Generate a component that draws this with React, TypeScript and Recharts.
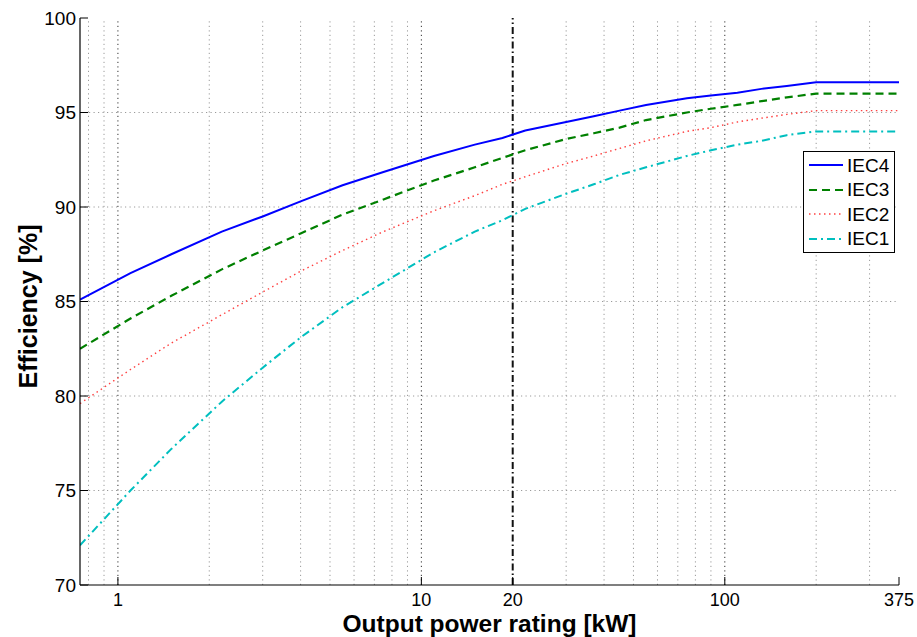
import React from "react";
import { LineChart, Line, XAxis, YAxis, ReferenceLine, Legend, Label } from "recharts";

// rated output power [kW]
const RATINGS = [0.75, 1.1, 1.5, 2.2, 3, 4, 5.5, 7.5, 11, 15, 18.5, 22, 30, 37, 45, 55, 75, 90, 110, 132, 160, 200, 375];

// efficiency [%]
const IEC4 = [85.1, 86.5, 87.5, 88.7, 89.5, 90.3, 91.15, 91.85, 92.7, 93.3, 93.65, 94.05, 94.5, 94.8, 95.1, 95.4, 95.75, 95.9, 96.05, 96.25, 96.4, 96.6, 96.6];
const IEC3 = [82.5, 84.1, 85.3, 86.7, 87.7, 88.6, 89.6, 90.4, 91.4, 92.1, 92.6, 93.0, 93.6, 93.9, 94.2, 94.6, 95.0, 95.2, 95.4, 95.6, 95.8, 96.0, 96.0];
const IEC2 = [79.6, 81.4, 82.8, 84.3, 85.5, 86.6, 87.7, 88.7, 89.8, 90.6, 91.2, 91.6, 92.3, 92.7, 93.1, 93.5, 94.0, 94.2, 94.5, 94.7, 94.9, 95.1, 95.1];
const IEC1 = [72.1, 75.0, 77.2, 79.7, 81.5, 83.1, 84.7, 86.0, 87.6, 88.7, 89.3, 89.9, 90.7, 91.2, 91.7, 92.1, 92.7, 93.0, 93.3, 93.5, 93.8, 94.0, 94.0];

const SERIES = ["IEC4", "IEC3", "IEC2", "IEC1"];
const X_TICKS = [1, 10, 20, 100, 375];
const Y_TICKS = [70, 75, 80, 85, 90, 95, 100];
const X_GRID_MINOR = [0.8, 0.9, 2, 3, 4, 5, 6, 7, 8, 9, 30, 40, 50, 60, 70, 80, 90, 200, 300];
const X_GRID_MAJOR = [1, 10, 100];
const Y_GRID = [75, 80, 85, 90, 95];
const MARKER_KW = 20;

const data = RATINGS.map((kw, i) => ({
  kw,
  IEC4: IEC4[i],
  IEC3: IEC3[i],
  IEC2: IEC2[i],
  IEC1: IEC1[i],
}));

const FONT = "'Liberation Sans', Arial, Helvetica, sans-serif";

const STYLES: Record<string, { color: string; width: number; dash?: string }> = {
  IEC4: { color: "#0000ff", width: 2 },
  IEC3: { color: "#008000", width: 2.2, dash: "8 5" },
  IEC2: { color: "#ff4040", width: 1.4, dash: "1.5 3.5" },
  IEC1: { color: "#00bfbf", width: 2, dash: "8 4 2 4" },
};

const LeftTick = ({ x, y, payload }: any) => (
  <g>
    <line x1={x} y1={y} x2={x + 8} y2={y} stroke="#000" />
    <text x={x - 4} y={y} textAnchor="end" dominantBaseline="central" fontFamily={FONT} fontSize={19} fill="#000">
      {payload.value}
    </text>
  </g>
);

const BottomTick = ({ x, y, payload }: any) => (
  <g>
    <line x1={x} y1={y} x2={x} y2={y - 8} stroke="#000" />
    <text x={x} y={y + 15} textAnchor="middle" dominantBaseline="central" fontFamily={FONT} fontSize={18} fill="#000">
      {payload.value}
    </text>
  </g>
);

const RightTick = ({ x, y }: any) => <line x1={x} y1={y} x2={x - 8} y2={y} stroke="#000" />;
const TopTick = ({ x, y }: any) => <line x1={x} y1={y} x2={x} y2={y + 8} stroke="#000" />;

const renderLegend = ({ payload }: any) => {
  const entries = [...(payload || [])].sort(
    (a: any, b: any) => SERIES.indexOf(a.value) - SERIES.indexOf(b.value)
  );
  return (
    <div
      style={{
        border: "1px solid #000",
        background: "#fff",
        padding: "1px 4px 1px 5px",
        fontFamily: FONT,
        fontSize: 19,
        color: "#000",
      }}
    >
      {entries.map((entry: any) => {
        const s = STYLES[entry.value];
        return (
          <div key={entry.value} style={{ display: "flex", alignItems: "center", height: 24.5 }}>
            <svg width={35} height={10} style={{ display: "block" }}>
              <line x1={0} x2={34} y1={5} y2={5} stroke={s.color} strokeWidth={s.width} strokeDasharray={s.dash} />
            </svg>
            <span style={{ marginLeft: 3, lineHeight: 1 }}>{entry.value}</span>
          </div>
        );
      })}
    </div>
  );
};

export default function App() {
  return (
    <div style={{ position: "absolute", left: 0, top: 0, background: "#fff" }}>
      <LineChart width={917} height={637} data={data} margin={{ top: 18, right: 18, left: 0, bottom: 0 }}>
        <XAxis
          dataKey="kw"
          type="number"
          scale="log"
          domain={[0.75, 375]}
          allowDataOverflow
          ticks={X_TICKS}
          interval={0}
          tickSize={0}
          tickMargin={0}
          tickLine={false}
          height={52}
          axisLine={{ stroke: "#000", strokeWidth: 1.2 }}
          tick={<BottomTick />}
        >
          <Label
            content={(p: any) => (
              <text
                x={p.viewBox.x + p.viewBox.width / 2}
                y={p.viewBox.y + 47}
                textAnchor="middle"
                fontFamily={FONT}
                fontWeight="bold"
                fontSize={24.5}
                fill="#000"
              >
                Output power rating [kW]
              </text>
            )}
          />
        </XAxis>
        <XAxis
          xAxisId="top"
          dataKey="kw"
          type="number"
          scale="log"
          domain={[0.75, 375]}
          allowDataOverflow
          orientation="top"
          ticks={X_TICKS}
          interval={0}
          tickSize={0}
          tickMargin={0}
          tickLine={false}
          height={0}
          axisLine={{ stroke: "#000", strokeWidth: 1.2 }}
          tick={<TopTick />}
        />
        <YAxis
          type="number"
          domain={[70, 100]}
          ticks={Y_TICKS}
          interval={0}
          tickSize={0}
          tickMargin={0}
          tickLine={false}
          width={80}
          axisLine={{ stroke: "#000", strokeWidth: 1.2 }}
          tick={<LeftTick />}
        >
          <Label
            content={(p: any) => {
              const cx = p.viewBox.x + 28;
              const cy = p.viewBox.y + p.viewBox.height / 2 + 5;
              return (
                <text
                  x={cx}
                  y={cy}
                  transform={`rotate(-90 ${cx} ${cy})`}
                  textAnchor="middle"
                  dominantBaseline="central"
                  fontFamily={FONT}
                  fontWeight="bold"
                  fontSize={25}
                  fill="#000"
                >
                  Efficiency [%]
                </text>
              );
            }}
          />
        </YAxis>
        <YAxis
          yAxisId="right"
          orientation="right"
          type="number"
          domain={[70, 100]}
          ticks={Y_TICKS}
          interval={0}
          tickSize={0}
          tickMargin={0}
          tickLine={false}
          width={0}
          axisLine={{ stroke: "#000", strokeWidth: 1.2 }}
          tick={<RightTick />}
        />

        {Y_GRID.map((v) => (
          <ReferenceLine key={`y${v}`} y={v} stroke="#9a9a9a" strokeDasharray="1.2 3.3" />
        ))}
        {X_GRID_MINOR.map((v) => (
          <ReferenceLine key={`xm${v}`} x={v} stroke="#9a9a9a" strokeDasharray="1.2 3.3" />
        ))}
        {X_GRID_MAJOR.map((v) => (
          <ReferenceLine key={`xM${v}`} x={v} stroke="#333" strokeDasharray="1.2 3.3" />
        ))}
        <ReferenceLine x={MARKER_KW} stroke="#111" strokeWidth={2} strokeDasharray="7 3 1.5 3" />

        {SERIES.map((k) => (
          <Line
            key={k}
            type="linear"
            dataKey={k}
            name={k}
            stroke={STYLES[k].color}
            strokeWidth={STYLES[k].width}
            strokeDasharray={STYLES[k].dash}
            dot={false}
            activeDot={false}
            isAnimationActive={false}
          />
        ))}

        <Legend
          layout="vertical"
          align="center"
          verticalAlign="middle"
          content={renderLegend}
          wrapperStyle={{ position: "absolute", left: 803, top: 151, right: "auto", bottom: "auto", width: 92, height: "auto" }}
        />
      </LineChart>
    </div>
  );
}
